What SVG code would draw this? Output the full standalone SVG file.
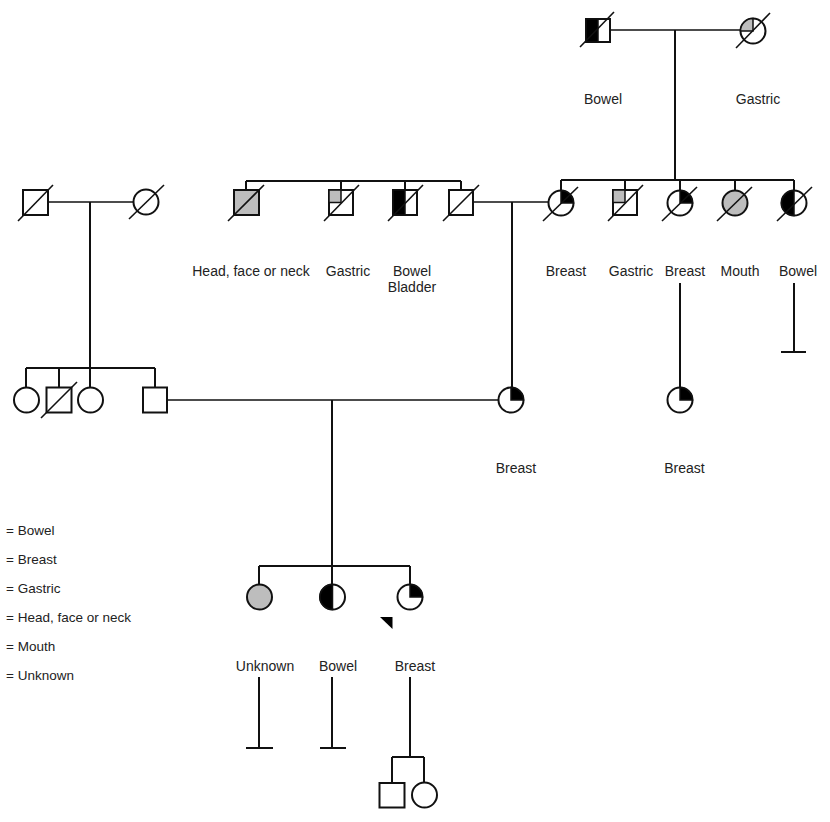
<svg xmlns="http://www.w3.org/2000/svg" width="830" height="822" viewBox="0 0 830 822">
<style>
.sym{fill:#fff;stroke:#111;stroke-width:2}
.blk{fill:#000;stroke:#111;stroke-width:1.5}
.gry{fill:#bdbdbd;stroke:#111;stroke-width:1.5}
.gryf{fill:#bdbdbd;stroke:#111;stroke-width:2}
.sl{stroke:#111;stroke-width:1.6;fill:none}
.ln{stroke:#111;stroke-width:2;fill:none}
.mln{stroke:#111;stroke-width:1.3;fill:none}
text{font-family:"Liberation Sans",Arial,sans-serif;font-size:14px;fill:#222}
.lbl{text-anchor:middle}
.lg{font-size:13.5px}
</style>
<rect width="830" height="822" fill="#fff"/>
<g id="connectors">
<path class="mln" d="M610,30H740"/>
<path class="ln" d="M675,30V180M561,180H794M561,180V190.5M625,180V190M680,180V190.5M735,180V190.5M794,180V190.5"/>
<path class="ln" d="M246,181H461M246,181V190M341,181V190M405,181V190M461,181V190"/>
<path class="mln" d="M473,202H548"/>
<path class="ln" d="M512,202V387.5"/>
<path class="mln" d="M48,202H133"/>
<path class="ln" d="M90,202V387.5M26,368H155M26,368V387.5M59,368V387M155,368V387"/>
<path class="mln" d="M167,400H498"/>
<path class="ln" d="M332,400V566M259,566H410M259,566V584M332,566V584M410,566V584"/>
<path class="ln" d="M680,283V387.5"/>
<path class="ln" d="M794,283V352M781,352H806"/>
<path class="ln" d="M259,677V748M246,748H273"/>
<path class="ln" d="M332,677V748M320,748H346"/>
<path class="ln" d="M410,677V757M392,757H424M392,757V783M424,757V782"/>
</g>
<g id="gp-father">
<rect class="sym" x="586" y="19" width="24" height="23"/>
<rect class="blk" x="586" y="19" width="12" height="23"/>
<path class="sl" d="M580,47L614,12"/>
<text class="lbl" x="603" y="104">Bowel</text>
</g>
<g id="gp-mother">
<circle class="sym" cx="753" cy="31" r="12.5"/>
<path class="gry" d="M753,31V18.5A12.5,12.5 0 0 0 740.5,31Z"/>
<path class="sl" d="M736,48L770,13"/>
<text class="lbl" x="758" y="104">Gastric</text>
</g>
<g id="pgp-father">
<rect class="sym" x="23" y="190" width="25" height="25"/>
<path class="sl" d="M18,221L53,185"/>
</g>
<g id="pgp-mother">
<circle class="sym" cx="146" cy="202" r="12.5"/>
<path class="sl" d="M129,219L164,185"/>
</g>
<g id="uncle1">
<rect class="gryf" x="234" y="190" width="25" height="25"/>
<path class="sl" d="M228,221L264,185"/>
<text class="lbl" x="251" y="276">Head, face or neck</text>
</g>
<g id="uncle2">
<rect class="sym" x="329" y="190" width="24" height="25"/>
<rect class="gry" x="329" y="190" width="12" height="12.5"/>
<path class="sl" d="M324,221L359,185"/>
<text class="lbl" x="348" y="276">Gastric</text>
</g>
<g id="uncle3">
<rect class="sym" x="393" y="190" width="24" height="25"/>
<rect class="blk" x="393" y="190" width="12" height="25"/>
<path class="sl" d="M388,221L423,185"/>
<text class="lbl" x="412" y="276">Bowel</text>
<text class="lbl" x="412" y="292">Bladder</text>
</g>
<g id="father">
<rect class="sym" x="449" y="190" width="24" height="25"/>
<path class="sl" d="M443,221L479,185"/>
</g>
<g id="mother">
<circle class="sym" cx="561" cy="203" r="12.5"/>
<path class="blk" d="M561,203V190.5A12.5,12.5 0 0 1 573.5,203Z"/>
<path class="sl" d="M543,221L578,187"/>
<text class="lbl" x="566" y="276">Breast</text>
</g>
<g id="aunt-uncle-gastric">
<rect class="sym" x="613" y="190" width="24" height="25"/>
<rect class="gry" x="613" y="190" width="12" height="12.5"/>
<path class="sl" d="M608,221L643,185"/>
<text class="lbl" x="631" y="276">Gastric</text>
</g>
<g id="aunt-breast">
<circle class="sym" cx="680" cy="203" r="12.5"/>
<path class="blk" d="M680,203V190.5A12.5,12.5 0 0 1 692.5,203Z"/>
<path class="sl" d="M662,221L697,187"/>
<text class="lbl" x="685" y="276">Breast</text>
</g>
<g id="aunt-mouth">
<circle class="gryf" cx="735" cy="203" r="12.5"/>
<path class="sl" d="M717,221L752,187"/>
<text class="lbl" x="740" y="276">Mouth</text>
</g>
<g id="aunt-bowel">
<circle class="sym" cx="794" cy="203" r="12.5"/>
<path class="blk" d="M794,190.5A12.5,12.5 0 0 0 794,215.5Z"/>
<path class="sl" d="M777,221L812,187"/>
<text class="lbl" x="798" y="276">Bowel</text>
</g>
<g id="aunt1">
<circle class="sym" cx="26.5" cy="400" r="12.5"/>
</g>
<g id="uncle-p">
<rect class="sym" x="46.5" y="387.5" width="25" height="25"/>
<path class="sl" d="M41,418L77,382"/>
</g>
<g id="aunt2">
<circle class="sym" cx="90.5" cy="400" r="12.5"/>
</g>
<g id="dad">
<rect class="sym" x="143" y="387.5" width="24" height="25"/>
</g>
<g id="mum">
<circle class="sym" cx="511" cy="400" r="12.5"/>
<path class="blk" d="M511,400V387.5A12.5,12.5 0 0 1 523.5,400Z"/>
<text class="lbl" x="516" y="473">Breast</text>
</g>
<g id="cousin">
<circle class="sym" cx="680" cy="400" r="12.5"/>
<path class="blk" d="M680,400V387.5A12.5,12.5 0 0 1 692.5,400Z"/>
<text class="lbl" x="684.5" y="473">Breast</text>
</g>
<g id="sister-unknown">
<circle class="gryf" cx="259.5" cy="597" r="12.5"/>
<text class="lbl" x="265" y="671">Unknown</text>
</g>
<g id="sister-bowel">
<circle class="sym" cx="332.5" cy="597" r="12.5"/>
<path class="blk" d="M332.5,584.5A12.5,12.5 0 0 0 332.5,609.5Z"/>
<text class="lbl" x="338" y="671">Bowel</text>
</g>
<g id="proband">
<circle class="sym" cx="410" cy="597" r="12.5"/>
<path class="blk" d="M410,597V584.5A12.5,12.5 0 0 1 422.5,597Z"/>
<path fill="#000" d="M380,617H392.5V629Z"/>
<text class="lbl" x="415" y="671">Breast</text>
</g>
<g id="son">
<rect class="sym" x="379.5" y="783" width="25" height="24.5"/>
</g>
<g id="daughter">
<circle class="sym" cx="424.5" cy="795" r="12.5"/>
</g>
<g id="legend">
<text class="lg" x="6" y="535">= Bowel</text>
<text class="lg" x="6" y="564">= Breast</text>
<text class="lg" x="6" y="593">= Gastric</text>
<text class="lg" x="6" y="622">= Head, face or neck</text>
<text class="lg" x="6" y="651">= Mouth</text>
<text class="lg" x="6" y="680">= Unknown</text>
</g>
</svg>
